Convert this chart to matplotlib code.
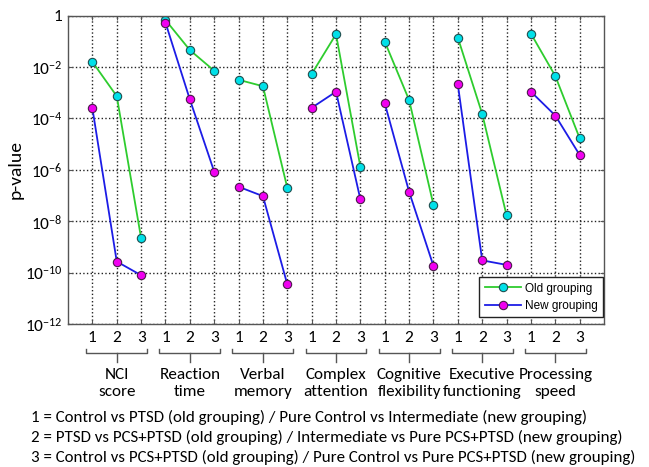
import matplotlib
matplotlib.use("Agg")
import matplotlib.pyplot as plt
import matplotlib.transforms as mtransforms
from matplotlib import font_manager

groups = ["NCI\nscore", "Reaction\ntime", "Verbal\nmemory", "Complex\nattention",
          "Cognitive\nflexibility", "Executive\nfunctioning", "Processing\nspeed"]
tick_labels = ["1", "2", "3"]

# p-values, 3 comparisons per measure
old_grouping = [1.6e-2, 7.4e-4, 2.2e-9,
                0.68, 4.6e-2, 7.2e-3,
                3.2e-3, 1.8e-3, 2.0e-7,
                5.4e-3, 0.19, 1.3e-6,
                9.8e-2, 5.2e-4, 4.3e-8,
                0.14, 1.5e-4, 1.7e-8,
                0.20, 4.5e-3, 1.7e-5]
new_grouping = [2.5e-4, 2.7e-10, 7.9e-11,
                0.54, 5.5e-4, 8.5e-7,
                2.2e-7, 9.5e-8, 3.5e-11,
                2.6e-4, 1.1e-3, 7.1e-8,
                3.9e-4, 1.4e-7, 1.8e-10,
                2.1e-3, 3.0e-10, 2.0e-10,
                1.1e-3, 1.3e-4, 3.8e-6]

footnotes = [
    "1 = Control vs PTSD (old grouping) / Pure Control vs Intermediate (new grouping)",
    "2 = PTSD vs PCS+PTSD (old grouping) / Intermediate vs Pure PCS+PTSD (new grouping)",
    "3 = Control vs PCS+PTSD (old grouping) / Pure Control vs Pure PCS+PTSD (new grouping)",
]


def pick_font(names):
    for n in names:
        try:
            font_manager.findfont(font_manager.FontProperties(family=n),
                                  fallback_to_default=False)
            return n
        except ValueError:
            pass
    return "DejaVu Sans"


def main():
    text_font = pick_font(["Carlito", "Liberation Sans Narrow", "Lato"])
    legend_font = pick_font(["Liberation Sans Narrow", "Liberation Sans"])
    plt.rcParams["font.family"] = text_font
    plt.rcParams["mathtext.default"] = "regular"

    fig = plt.figure(figsize=(6.49, 4.67), dpi=100)
    ax = fig.add_axes([0.1048, 0.3062, 0.8259, 0.6602])

    x = list(range(1, len(old_grouping) + 1))
    for g in range(len(groups)):
        s = slice(3 * g, 3 * g + 3)
        ax.plot(x[s], old_grouping[s], "-o", color="#2ecc2e", lw=1.3,
                mfc="#00e0e8", mec="#1f4f4f", ms=6, mew=0.8,
                label="Old grouping" if g == 0 else None)
    for g in range(len(groups)):
        s = slice(3 * g, 3 * g + 3)
        ax.plot(x[s], new_grouping[s], "-o", color="#1c1ce6", lw=1.3,
                mfc="#f000f0", mec="#4a1a4a", ms=6, mew=0.8,
                label="New grouping" if g == 0 else None)

    ax.set_yscale("log")
    ax.set_ylim(1e-12, 1)
    ax.set_xlim(0, len(x) + 1)
    yt = [10.0 ** -k for k in range(0, 13, 2)]
    ax.set_yticks(yt)
    ax.set_yticklabels(["1"] + ["$10^{-%d}$" % k for k in range(2, 13, 2)])
    ax.minorticks_off()
    ax.set_xticks(x)
    ax.set_xticklabels(tick_labels * len(groups))
    ax.tick_params(direction="in", top=True, right=True, length=3,
                   labelsize=12.5, color="#555555", pad=4)
    ax.tick_params(axis="x", pad=5)
    ax.grid(True, ls=":", color="#222222", lw=1.0)
    for sp in ax.spines.values():
        sp.set_color("#555555")
        sp.set_linewidth(1.0)
    ax.set_ylabel("p-value", fontsize=14, labelpad=1)

    # brackets and measure names under the axis
    trans = mtransforms.blended_transform_factory(ax.transData, ax.transAxes)
    for g, name in enumerate(groups):
        a = 3 * g + 1 - 0.25
        b = 3 * g + 3 + 0.25
        m = 3 * g + 2
        ax.plot([a, a, b, b], [-0.081, -0.093, -0.093, -0.081], color="#555555",
                lw=1.0, transform=trans, clip_on=False)
        ax.plot([m, m], [-0.093, -0.122], color="#555555", lw=1.0,
                transform=trans, clip_on=False)
        ax.text(m, -0.192, name, transform=trans, ha="center", va="center",
                multialignment="center", fontsize=12.3, linespacing=1.25)

    leg = ax.legend(loc="lower right", bbox_to_anchor=(0.999, 0.022),
                    fancybox=False, edgecolor="#222222", framealpha=1,
                    prop={"family": legend_font, "size": 8.5},
                    handlelength=3.1, borderaxespad=0, labelspacing=0.45,
                    borderpad=0.45, handletextpad=0.35)
    leg.get_frame().set_linewidth(1.0)

    for i, line in enumerate(footnotes):
        fig.text(0.048, 0.107 - 0.0428 * i, line, fontsize=12.2, va="center")

    fig.savefig("out.png", dpi=100)


if __name__ == "__main__":
    main()
